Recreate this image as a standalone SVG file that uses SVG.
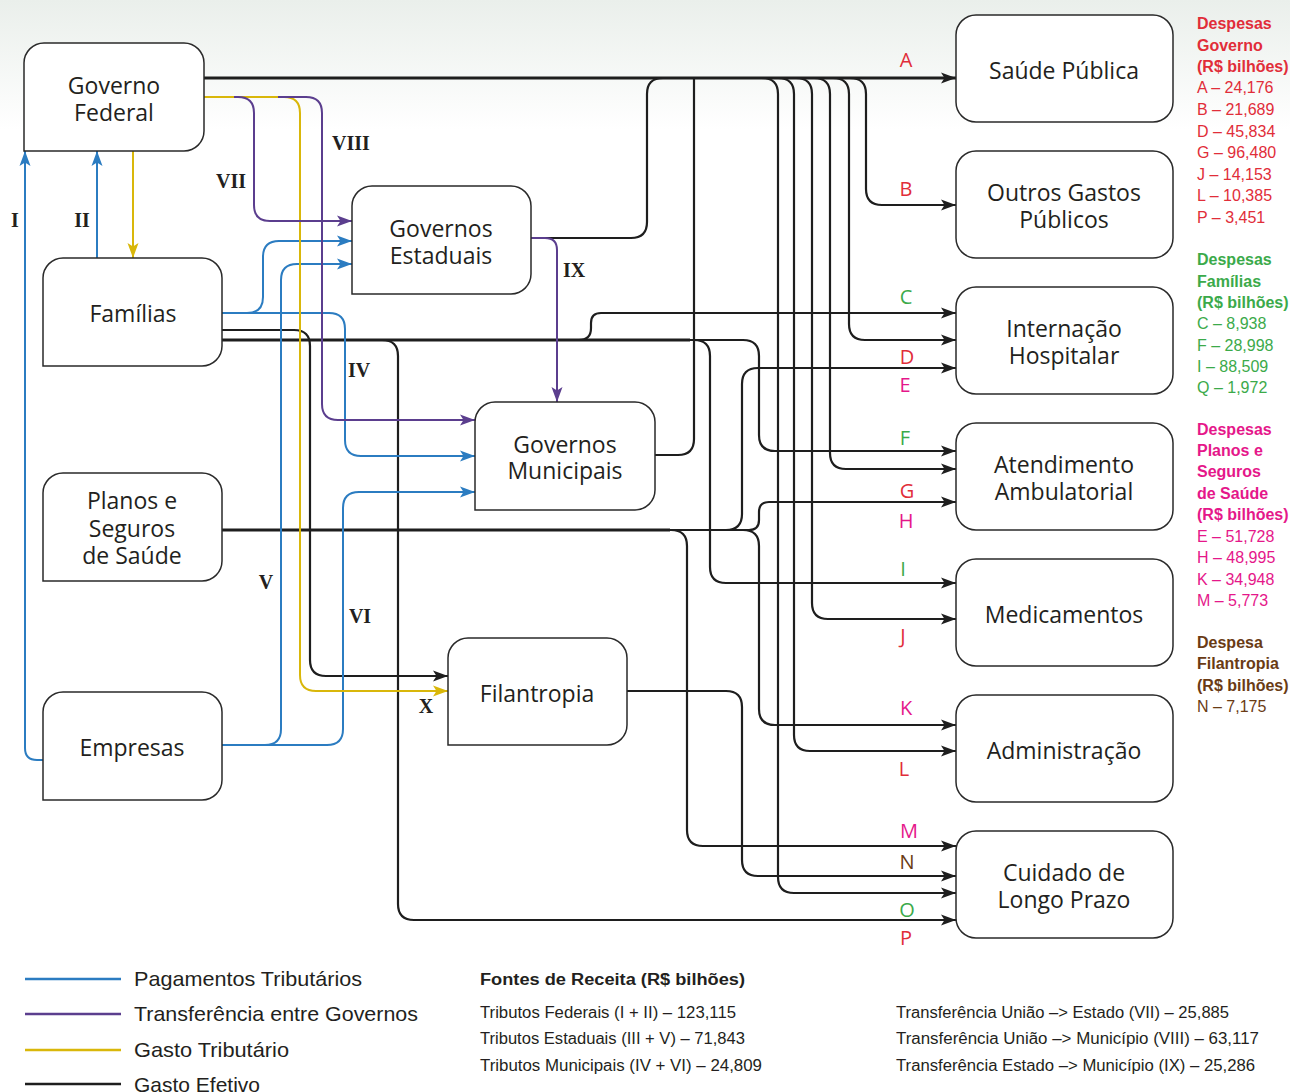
<svg xmlns="http://www.w3.org/2000/svg" width="1290" height="1092" viewBox="0 0 1290 1092">
<defs>
<linearGradient id="bg" x1="0" y1="0" x2="0" y2="1">
<stop offset="0" stop-color="#EAEFEB"/>
<stop offset="1" stop-color="#FFFFFF"/>
</linearGradient>
<marker id="ak" viewBox="0 0 15 12" refX="15" refY="6" markerWidth="15" markerHeight="12" markerUnits="userSpaceOnUse" orient="auto"><path d="M0,0.5 L15,6 L0,11.5 L3.5,6 Z" fill="#1e1e1e"/></marker>
<marker id="ab" viewBox="0 0 15 12" refX="15" refY="6" markerWidth="15" markerHeight="12" markerUnits="userSpaceOnUse" orient="auto"><path d="M0,0.5 L15,6 L0,11.5 L3.5,6 Z" fill="#2B7CC1"/></marker>
<marker id="ap" viewBox="0 0 15 12" refX="15" refY="6" markerWidth="15" markerHeight="12" markerUnits="userSpaceOnUse" orient="auto"><path d="M0,0.5 L15,6 L0,11.5 L3.5,6 Z" fill="#5B3E8E"/></marker>
<marker id="ay" viewBox="0 0 15 12" refX="15" refY="6" markerWidth="15" markerHeight="12" markerUnits="userSpaceOnUse" orient="auto"><path d="M0,0.5 L15,6 L0,11.5 L3.5,6 Z" fill="#D9B70A"/></marker>
</defs>
<style>
.box{fill:#fff;stroke:#2a2a2a;stroke-width:1.5}
.bt{font-family:"Open Sans","Noto Sans",sans-serif;font-size:23px;fill:#231f20;text-anchor:middle}
.k{fill:none;stroke:#1e1e1e;stroke-width:2.2}
.kt{fill:none;stroke:#1e1e1e;stroke-width:3}
.b{fill:none;stroke:#2B7CC1;stroke-width:2}
.p{fill:none;stroke:#5B3E8E;stroke-width:2}
.y{fill:none;stroke:#D9B70A;stroke-width:2}
.mk{marker-end:url(#ak)}
.mb{marker-end:url(#ab)}
.mp{marker-end:url(#ap)}
.my{marker-end:url(#ay)}
.rn{font-family:"Liberation Serif","DejaVu Serif",serif;font-weight:bold;font-size:20px;fill:#231f20;text-anchor:middle}
.lt{font-family:"Open Sans","Noto Sans",sans-serif;font-size:20px;text-anchor:middle}
.lg{font-family:"Liberation Sans",Arial,sans-serif;font-size:16px}
.lgb{font-family:"Liberation Sans",Arial,sans-serif;font-size:16px;font-weight:bold}
.red{fill:#E12D39}.grn{fill:#3BAA4A}.pnk{fill:#E5178A}.brn{fill:#6A3B14}
.leg{font-family:"Liberation Sans",Arial,sans-serif;font-size:21px;fill:#231f20}
.src{font-family:"Liberation Sans",Arial,sans-serif;font-size:16px;fill:#231f20}
</style>
<rect x="0" y="0" width="1290" height="130" fill="url(#bg)"/>

<g id="connectors">
<!-- Governo Federal spending -->
<path class="k mk" d="M204,78 H850 Q866,78 866,94 V189 Q866,205 882,205 H956"/>
<path class="k mk" d="M204,78 H833 Q849,78 849,94 V324 Q849,340 865,340 H956"/>
<path class="k mk" d="M204,78 H814 Q830,78 830,94 V453 Q830,469 846,469 H956"/>
<path class="k mk" d="M204,78 H796 Q812,78 812,94 V603 Q812,619 828,619 H956"/>
<path class="k mk" d="M204,78 H778 Q794,78 794,94 V735 Q794,751 810,751 H956"/>
<path class="k mk" d="M204,78 H762 Q778,78 778,94 V877 Q778,893 794,893 H956"/>
<path class="kt mk" d="M204,78 H956"/>
<path class="k" d="M531,238 H631 Q647,238 647,222 V94 Q647,78 663,78"/>
<path class="k" d="M655,455 H678 Q694,455 694,439 V78"/>
<!-- Famílias spending -->
<path class="k mk" d="M222,330 H294 Q310,330 310,346 V660 Q310,676 326,676 H448"/>
<path class="k mk" d="M222,340 H579 Q591,340 591,328 V323 Q591,313 601,313 H956"/>
<path class="k mk" d="M222,340 H382 Q398,340 398,356 V904 Q398,920 414,920 H956"/>
<path class="k mk" d="M222,340 H694 Q710,340 710,356 V567 Q710,583 726,583 H956"/>
<path class="k mk" d="M222,340 H743 Q759,340 759,356 V435 Q759,451 775,451 H956"/>
<path class="kt" d="M222,340 H690"/>
<!-- Planos spending -->
<path class="k mk" d="M222,530 H671 Q687,530 687,546 V830 Q687,846 703,846 H956"/>
<path class="k mk" d="M222,530 H726 Q742,530 742,514 V384 Q742,368 758,368 H956"/>
<path class="k mk" d="M222,530 H749 Q759,530 759,520 V512 Q759,502 769,502 H956"/>
<path class="k mk" d="M222,530 H743 Q759,530 759,546 V709 Q759,725 775,725 H956"/>
<path class="kt" d="M222,530 H670"/>
<!-- Filantropia -->
<path class="k mk" d="M627,691 H726 Q742,691 742,707 V860 Q742,876 758,876 H956"/>
<!-- Pagamentos tributários -->
<path class="b mb" d="M43,760 H37 Q25,760 25,748 V151"/>
<path class="b mb" d="M97,258 V151"/>
<path class="b mb" d="M222,313 H247 Q263,313 263,297 V257 Q263,241 279,241 H352"/>
<path class="b mb" d="M222,313 H329 Q345,313 345,329 V440 Q345,456 361,456 H475"/>
<path class="b mb" d="M222,745 H265 Q281,745 281,729 V280 Q281,264 297,264 H352"/>
<path class="b mb" d="M222,745 H327 Q343,745 343,729 V508 Q343,492 359,492 H475"/>
<!-- Gasto tributário -->
<path class="y my" d="M133,151 V258"/>
<path class="y my" d="M204,97 H284 Q300,97 300,113 V675 Q300,691 316,691 H448"/>
<!-- Transferências -->
<path class="p mp" d="M234,97 H238 Q254,97 254,113 V205 Q254,221 270,221 H352"/>
<path class="p mp" d="M278,97 H306 Q322,97 322,113 V404 Q322,420 338,420 H475"/>
<path class="p mp" d="M531,238 H545 Q557,238 557,250 V402"/>
</g>

<g id="labels-roman">
<text class="rn" x="15" y="227">I</text>
<text class="rn" x="82" y="227">II</text>
<text class="rn" x="231" y="188">VII</text>
<text class="rn" x="351" y="150">VIII</text>
<text class="rn" x="574" y="277">IX</text>
<text class="rn" x="359" y="377">IV</text>
<text class="rn" x="266" y="589">V</text>
<text class="rn" x="360" y="623">VI</text>
<text class="rn" x="426" y="713">X</text>
</g>

<g id="labels-letters">
<text class="lt red" x="906" y="67">A</text>
<text class="lt red" x="906" y="196">B</text>
<text class="lt grn" x="906" y="304">C</text>
<text class="lt red" x="907" y="364">D</text>
<text class="lt pnk" x="905" y="392">E</text>
<text class="lt grn" x="905" y="445">F</text>
<text class="lt red" x="907" y="498">G</text>
<text class="lt pnk" x="906" y="528">H</text>
<text class="lt grn" x="903" y="576">I</text>
<text class="lt red" x="903" y="643">J</text>
<text class="lt pnk" x="906" y="715">K</text>
<text class="lt red" x="904" y="776">L</text>
<text class="lt pnk" x="909" y="838">M</text>
<text class="lt brn" x="907" y="869">N</text>
<text class="lt grn" x="907" y="917">O</text>
<text class="lt red" x="906" y="945">P</text>
</g>

<g id="governo-federal"><path class="box" d="M44,43 H184 A20,20 0 0 1 204,63 V131 A20,20 0 0 1 184,151 H24 V63 A20,20 0 0 1 44,43 Z"/><text class="bt" x="114" y="94">Governo</text><text class="bt" x="114" y="121">Federal</text></g>
<g id="familias"><path class="box" d="M63,258 H202 A20,20 0 0 1 222,278 V346 A20,20 0 0 1 202,366 H43 V278 A20,20 0 0 1 63,258 Z"/><text class="bt" x="133" y="322">Famílias</text></g>
<g id="governos-estaduais"><path class="box" d="M372,186 H511 A20,20 0 0 1 531,206 V274 A20,20 0 0 1 511,294 H352 V206 A20,20 0 0 1 372,186 Z"/><text class="bt" x="441" y="237">Governos</text><text class="bt" x="441" y="264">Estaduais</text></g>
<g id="governos-municipais"><path class="box" d="M495,402 H635 A20,20 0 0 1 655,422 V490 A20,20 0 0 1 635,510 H475 V422 A20,20 0 0 1 495,402 Z"/><text class="bt" x="565" y="453">Governos</text><text class="bt" x="565" y="479">Municipais</text></g>
<g id="planos"><path class="box" d="M63,473 H202 A20,20 0 0 1 222,493 V561 A20,20 0 0 1 202,581 H43 V493 A20,20 0 0 1 63,473 Z"/><text class="bt" x="132" y="509">Planos e</text><text class="bt" x="132" y="537">Seguros</text><text class="bt" x="132" y="564">de Saúde</text></g>
<g id="empresas"><path class="box" d="M63,692 H202 A20,20 0 0 1 222,712 V780 A20,20 0 0 1 202,800 H43 V712 A20,20 0 0 1 63,692 Z"/><text class="bt" x="132" y="756">Empresas</text></g>
<g id="filantropia"><path class="box" d="M468,638 H607 A20,20 0 0 1 627,658 V725 A20,20 0 0 1 607,745 H448 V658 A20,20 0 0 1 468,638 Z"/><text class="bt" x="537" y="702">Filantropia</text></g>

<g id="saude-publica"><rect class="box" x="956" y="15" width="217" height="107" rx="20"/><text class="bt" x="1064" y="79">Saúde Pública</text></g>
<g id="outros-gastos"><rect class="box" x="956" y="151" width="217" height="107" rx="20"/><text class="bt" x="1064" y="201">Outros Gastos</text><text class="bt" x="1064" y="228">Públicos</text></g>
<g id="internacao"><rect class="box" x="956" y="287" width="217" height="107" rx="20"/><text class="bt" x="1064" y="337">Internação</text><text class="bt" x="1064" y="364">Hospitalar</text></g>
<g id="atendimento"><rect class="box" x="956" y="423" width="217" height="107" rx="20"/><text class="bt" x="1064" y="473">Atendimento</text><text class="bt" x="1064" y="500">Ambulatorial</text></g>
<g id="medicamentos"><rect class="box" x="956" y="559" width="217" height="107" rx="20"/><text class="bt" x="1064" y="623">Medicamentos</text></g>
<g id="administracao"><rect class="box" x="956" y="695" width="217" height="107" rx="20"/><text class="bt" x="1064" y="759">Administração</text></g>
<g id="cuidado"><rect class="box" x="956" y="831" width="217" height="107" rx="20"/><text class="bt" x="1064" y="881">Cuidado de</text><text class="bt" x="1064" y="908">Longo Prazo</text></g>

<g id="legenda-despesas">
<text class="lgb red" x="1197" y="29">Despesas</text>
<text class="lgb red" x="1197" y="51">Governo</text>
<text class="lgb red" x="1197" y="72">(R$ bilhões)</text>
<text class="lg red" x="1197" y="93">A – 24,176</text>
<text class="lg red" x="1197" y="115">B – 21,689</text>
<text class="lg red" x="1197" y="137">D – 45,834</text>
<text class="lg red" x="1197" y="158">G – 96,480</text>
<text class="lg red" x="1197" y="180">J – 14,153</text>
<text class="lg red" x="1197" y="201">L – 10,385</text>
<text class="lg red" x="1197" y="223">P – 3,451</text>
<text class="lgb grn" x="1197" y="265">Despesas</text>
<text class="lgb grn" x="1197" y="287">Famílias</text>
<text class="lgb grn" x="1197" y="308">(R$ bilhões)</text>
<text class="lg grn" x="1197" y="329">C – 8,938</text>
<text class="lg grn" x="1197" y="351">F – 28,998</text>
<text class="lg grn" x="1197" y="372">I – 88,509</text>
<text class="lg grn" x="1197" y="393">Q – 1,972</text>
<text class="lgb pnk" x="1197" y="435">Despesas</text>
<text class="lgb pnk" x="1197" y="456">Planos e</text>
<text class="lgb pnk" x="1197" y="477">Seguros</text>
<text class="lgb pnk" x="1197" y="499">de Saúde</text>
<text class="lgb pnk" x="1197" y="520">(R$ bilhões)</text>
<text class="lg pnk" x="1197" y="542">E – 51,728</text>
<text class="lg pnk" x="1197" y="563">H – 48,995</text>
<text class="lg pnk" x="1197" y="585">K – 34,948</text>
<text class="lg pnk" x="1197" y="606">M – 5,773</text>
<text class="lgb brn" x="1197" y="648">Despesa</text>
<text class="lgb brn" x="1197" y="669">Filantropia</text>
<text class="lgb brn" x="1197" y="691">(R$ bilhões)</text>
<text class="lg brn" x="1197" y="712">N – 7,175</text>
</g>

<g id="legenda-linhas">
<line x1="25" y1="979" x2="121" y2="979" stroke="#2B7CC1" stroke-width="2.5"/>
<line x1="25" y1="1014" x2="121" y2="1014" stroke="#5B3E8E" stroke-width="2.5"/>
<line x1="25" y1="1050" x2="121" y2="1050" stroke="#D9B70A" stroke-width="2.5"/>
<line x1="25" y1="1084" x2="121" y2="1084" stroke="#1e1e1e" stroke-width="2.5"/>
<text class="leg" x="134" y="986" textLength="228" lengthAdjust="spacingAndGlyphs">Pagamentos Tributários</text>
<text class="leg" x="134" y="1021" textLength="284" lengthAdjust="spacingAndGlyphs">Transferência entre Governos</text>
<text class="leg" x="134" y="1057" textLength="155" lengthAdjust="spacingAndGlyphs">Gasto Tributário</text>
<text class="leg" x="134" y="1092" textLength="126" lengthAdjust="spacingAndGlyphs">Gasto Efetivo</text>
</g>

<g id="fontes-receita">
<text class="src" x="480" y="985" font-weight="bold" font-size="18" textLength="265" lengthAdjust="spacingAndGlyphs">Fontes de Receita (R$ bilhões)</text>
<text class="src" x="480" y="1018" textLength="256" lengthAdjust="spacingAndGlyphs">Tributos Federais (I + II) – 123,115</text>
<text class="src" x="480" y="1044" textLength="265" lengthAdjust="spacingAndGlyphs">Tributos Estaduais (III + V) – 71,843</text>
<text class="src" x="480" y="1071" textLength="282" lengthAdjust="spacingAndGlyphs">Tributos Municipais (IV + VI) – 24,809</text>
<text class="src" x="896" y="1018" textLength="333" lengthAdjust="spacingAndGlyphs">Transferência União –&gt; Estado (VII) – 25,885</text>
<text class="src" x="896" y="1044" textLength="363" lengthAdjust="spacingAndGlyphs">Transferência União –&gt; Município (VIII) – 63,117</text>
<text class="src" x="896" y="1071" textLength="359" lengthAdjust="spacingAndGlyphs">Transferência Estado –&gt; Município (IX) – 25,286</text>
</g>
</svg>
